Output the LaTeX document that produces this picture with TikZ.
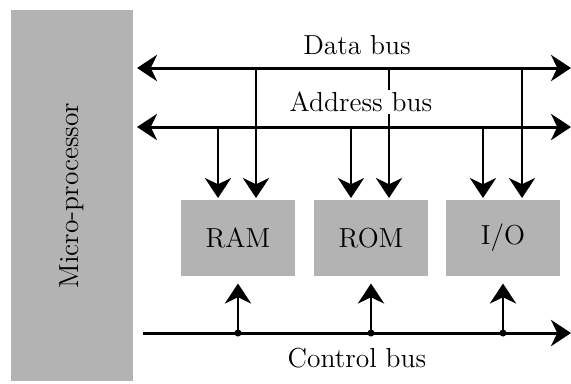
\documentclass[tikz,border=0pt]{standalone}
\usepackage{xcolor}
\usepackage{tikz}
\usetikzlibrary{positioning, arrows.meta}

\definecolor{blockgray}{RGB}{179,179,179}

\begin{document}
\begin{tikzpicture}[
    x=0.4pt, y=-0.4pt,
    blk/.style={fill=blockgray, minimum width=45.6pt, minimum height=30.4pt, font=\fontsize{11}{13}\selectfont},
    bus/.style={line width=1.2pt, {Stealth[length=8pt,width=10.5pt,inset=2.5pt]}-{Stealth[length=8pt,width=10.5pt,inset=2.5pt]}},
    cbus/.style={line width=1.2pt, -{Stealth[length=8pt,width=10.5pt,inset=2.5pt]}},
    drop/.style={line width=1pt, -{Stealth[length=8pt,width=10.5pt,inset=2.5pt]}, shorten >=0.6pt},
    rise/.style={line width=1pt, -{Stealth[length=8pt,width=10.5pt,inset=2.5pt]}, shorten >=2.8pt},
    lbl/.style={font=\fontsize{11}{13}\selectfont},
]
\useasboundingbox (0,0) rectangle (571,383);

\node[fill=blockgray, minimum width=48.8pt, minimum height=148.4pt] (cpu) at (72,195.5) {};
\node[rotate=90, lbl] at (cpu.center) {Micro-processor};

\coordinate (dl) at (137,68);
\coordinate (dr) at (571,68);
\coordinate (al) at (137,127);
\coordinate (ar) at (571,127);
\coordinate (cl) at (143,333);
\coordinate (cr) at (571,333);

\node[blk] (ram) at (238,238) {RAM};
\node[blk] (rom) at (371,238) {ROM};
\node[blk] (io) at (503,238) {I/O};

% buses
\draw[bus] (dl) -- (dr);
\draw[bus] (al) -- (ar);
\draw[cbus] (cl) -- (cr);

% address lines
\draw[drop] ([xshift=-8pt]ram.north |- al) -- ([xshift=-8pt]ram.north);
\draw[drop] ([xshift=-8pt]rom.north |- al) -- ([xshift=-8pt]rom.north);
\draw[drop] ([xshift=-8pt]io.north |- al) -- ([xshift=-8pt]io.north);

% data lines
\draw[drop] ([xshift=7.2pt]ram.north |- dl) -- ([xshift=7.2pt]ram.north);
\draw[drop] ([xshift=7.2pt]rom.north |- dl) -- ([xshift=7.2pt]rom.north);
\draw[drop] ([xshift=7.6pt]io.north |- dl) -- ([xshift=7.6pt]io.north);

\node[lbl] (data) at (357,45) {Data bus};
\node[lbl, fill=white, inner sep=1pt] (addr) at (361,102) {Address bus};
\node[lbl] (ctrl) at (357,358) {Control bus};

% control lines
\fill (ram.south |- cl) circle (3.5);
\fill (rom.south |- cl) circle (3.5);
\fill (io.south |- cl) circle (3.5);
\draw[rise] (ram.south |- cl) -- (ram.south);
\draw[rise] (rom.south |- cl) -- (rom.south);
\draw[rise] (io.south |- cl) -- (io.south);
\end{tikzpicture}
\end{document}
